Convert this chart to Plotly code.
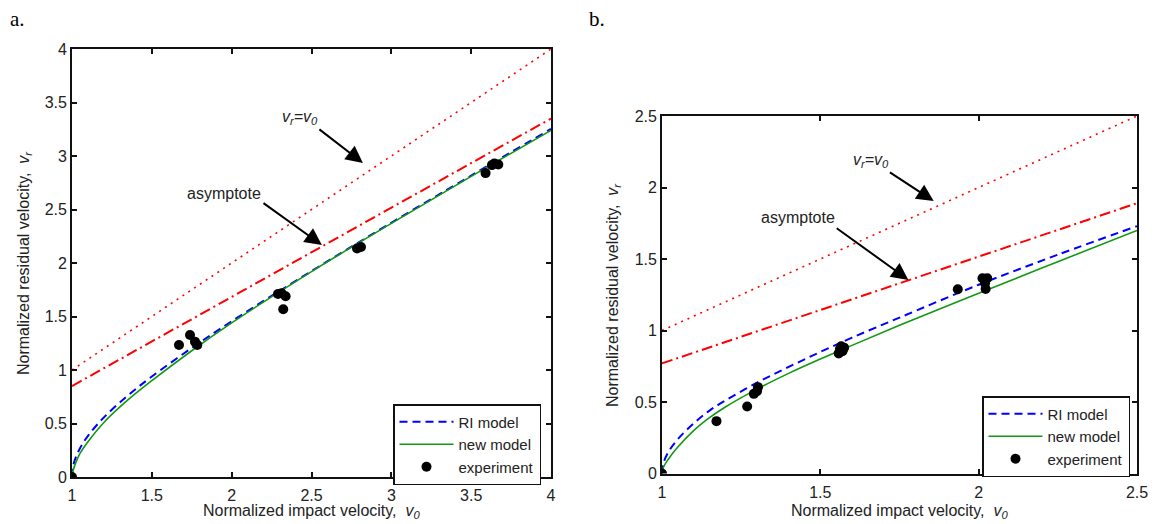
import plotly.graph_objects as go

W, H = 1155, 524

# ---------------- Panel a data ----------------
a_v0 = [1.0, 1.005, 1.02, 1.05, 1.1, 1.2, 1.35, 1.5, 1.75, 2.0, 2.5, 3.0, 3.5, 4.0]
a_ri = [0.0, 0.084, 0.169, 0.269, 0.385, 0.557, 0.762, 0.939, 1.206, 1.455, 1.924, 2.376, 2.817, 3.253]
a_new = [0.0, 0.05, 0.12, 0.22, 0.33, 0.51, 0.72, 0.90, 1.18, 1.44, 1.92, 2.37, 2.81, 3.24]
a_line_x = [1.0, 4.0]
a_equal_y = [1.0, 4.0]
a_asym_y = [0.85, 3.35]
a_exp_x = [1.0, 1.67, 1.739, 1.77, 1.785, 2.29, 2.313, 2.338, 2.323, 2.785, 2.81, 3.59, 3.63, 3.645, 3.67]
a_exp_y = [0.0, 1.234, 1.327, 1.265, 1.234, 1.71, 1.717, 1.69, 1.567, 2.135, 2.15, 2.84, 2.915, 2.93, 2.92]
a_xticks = [1, 1.5, 2, 2.5, 3, 3.5, 4]
a_yticks = [0, 0.5, 1, 1.5, 2, 2.5, 3, 3.5, 4]

# ---------------- Panel b data ----------------
b_v0 = [1.0, 1.005, 1.02, 1.05, 1.1, 1.15, 1.2, 1.3, 1.4, 1.5, 1.6, 1.75, 2.0, 2.25, 2.5]
b_ri = [0.0, 0.075, 0.15, 0.24, 0.35, 0.44, 0.51, 0.635, 0.745, 0.85, 0.95, 1.09, 1.32, 1.53, 1.73]
b_new = [0.0, 0.045, 0.10, 0.185, 0.30, 0.39, 0.465, 0.59, 0.70, 0.80, 0.896, 1.036, 1.261, 1.481, 1.70]
b_line_x = [1.0, 2.5]
b_equal_y = [1.0, 2.5]
b_asym_y = [0.77, 1.89]
b_exp_x = [1.0, 1.172, 1.269, 1.29, 1.30, 1.303, 1.558, 1.562, 1.566, 1.575, 1.57, 1.934, 2.012, 2.027, 2.02, 2.022]
b_exp_y = [0.0, 0.366, 0.469, 0.557, 0.575, 0.604, 0.84, 0.87, 0.89, 0.88, 0.855, 1.289, 1.365, 1.365, 1.33, 1.29]
b_xticks = [1, 1.5, 2, 2.5]
b_yticks = [0, 0.5, 1, 1.5, 2, 2.5]

FONT = "Liberation Sans, Arial, Helvetica, sans-serif"
TXT = "#222222"
RED = "#ff0000"
BLUE = "#0000ff"
GREEN = "#119911"

fig = go.Figure()


def add_panel(xa, ya, lg, v0, ri, new, lx, eq, asym, ex, ey):
    fig.add_trace(go.Scatter(x=lx, y=eq, mode="lines", xaxis=xa, yaxis=ya, showlegend=False,
                             line=dict(color=RED, width=1.6, dash="2px,5px"), hoverinfo="skip"))
    fig.add_trace(go.Scatter(x=lx, y=asym, mode="lines", xaxis=xa, yaxis=ya, showlegend=False,
                             line=dict(color=RED, width=2, dash="11px,4px,2px,4px"), hoverinfo="skip"))
    fig.add_trace(go.Scatter(x=v0, y=ri, mode="lines", name="RI model", xaxis=xa, yaxis=ya, legend=lg,
                             line=dict(color=BLUE, width=2, dash="8px,5px", shape="spline")))
    fig.add_trace(go.Scatter(x=v0, y=new, mode="lines", name="new model", xaxis=xa, yaxis=ya, legend=lg,
                             line=dict(color=GREEN, width=1.6, shape="spline")))
    fig.add_trace(go.Scatter(x=ex, y=ey, mode="markers", name="experiment", xaxis=xa, yaxis=ya, legend=lg,
                             marker=dict(color="black", size=10)))


add_panel("x", "y", "legend", a_v0, a_ri, a_new, a_line_x, a_equal_y, a_asym_y, a_exp_x, a_exp_y)
add_panel("x2", "y2", "legend2", b_v0, b_ri, b_new, b_line_x, b_equal_y, b_asym_y, b_exp_x, b_exp_y)

axis_common = dict(showline=True, linecolor="#111111", linewidth=1.8, mirror="ticks",
                   ticks="inside", ticklen=5, tickwidth=1.5, tickcolor="#111111",
                   showgrid=False, zeroline=False, automargin=False,
                   tickfont=dict(family=FONT, size=16, color=TXT))

legend_common = dict(xanchor="left", yanchor="top", bordercolor="#111111", borderwidth=1.5,
                     bgcolor="white", font=dict(family=FONT, size=15, color=TXT),
                     tracegroupgap=0, itemwidth=54)

fig.update_layout(
    template="none",
    width=W, height=H,
    margin=dict(l=0, r=0, t=0, b=0, pad=0),
    paper_bgcolor="white", plot_bgcolor="white",
    font=dict(family=FONT, size=16, color=TXT),
    xaxis=dict(domain=[72 / W, 551 / W], range=[1, 4], tickvals=a_xticks, ticklabelstandoff=3,
               ticktext=[f"{t:g}" for t in a_xticks], anchor="y", **axis_common),
    yaxis=dict(domain=[1 - 477 / H, 1 - 49 / H], range=[0, 4], tickvals=a_yticks,
               ticktext=[f"{t:g}" for t in a_yticks], anchor="x", **axis_common),
    xaxis2=dict(domain=[662 / W, 1137 / W], range=[1, 2.5], tickvals=b_xticks, ticklabelstandoff=3,
                ticktext=[f"{t:g}" for t in b_xticks], anchor="y2", **axis_common),
    yaxis2=dict(domain=[1 - 473.5 / H, 1 - 116 / H], range=[0, 2.5], tickvals=b_yticks,
                ticktext=[f"{t:g}" for t in b_yticks], anchor="x2", **axis_common),
    legend=dict(x=393 / W, y=1 - 404 / H, **legend_common),
    legend2=dict(x=982 / W, y=1 - 396 / H, **legend_common),
    hovermode="closest",
)

ann = []
# panel labels
ann.append(dict(text="a.", x=8 / W, y=1 - 19 / H, xref="paper", yref="paper", xanchor="left", yanchor="middle",
                showarrow=False, font=dict(family="Liberation Serif, Times New Roman, serif", size=21, color="black")))
ann.append(dict(text="b.", x=587 / W, y=1 - 19 / H, xref="paper", yref="paper", xanchor="left", yanchor="middle",
                showarrow=False, font=dict(family="Liberation Serif, Times New Roman, serif", size=21, color="black")))
# axis titles
xt = "Normalized impact velocity,  <i>v<sub>0</sub></i>"
yt = "Normalized residual velocity,  <i>v<sub>r</sub></i>"
ann.append(dict(text=xt, x=311 / W, y=1 - 511 / H, xref="paper", yref="paper", xanchor="center", yanchor="middle",
                showarrow=False))
ann.append(dict(text=xt, x=899 / W, y=1 - 511 / H, xref="paper", yref="paper", xanchor="center", yanchor="middle",
                showarrow=False))
ann.append(dict(text=yt, x=24 / W, y=1 - 263 / H, xref="paper", yref="paper", xanchor="center", yanchor="middle",
                showarrow=False, textangle=-90))
ann.append(dict(text=yt, x=613 / W, y=1 - 295 / H, xref="paper", yref="paper", xanchor="center", yanchor="middle",
                showarrow=False, textangle=-90))

# in-plot labels and arrows
lab = "<i>v<sub>r</sub>=v<sub>0</sub></i>"
arrow = dict(showarrow=True, arrowhead=2, arrowsize=1.7, arrowwidth=2, arrowcolor="black", text="",
             standoff=0, startstandoff=0)
# panel a
ann.append(dict(text=lab, x=2.428, y=3.36, xref="x", yref="y", showarrow=False))
ann.append(dict(x=2.822, y=2.935, ax=2.54, ay=3.26, xref="x", yref="y", axref="x", ayref="y", **arrow))
ann.append(dict(text="asymptote", x=1.952, y=2.645, xref="x", yref="y", showarrow=False))
ann.append(dict(x=2.565, y=2.168, ax=2.19, ay=2.57, xref="x", yref="y", axref="x", ayref="y", **arrow))
# panel b
ann.append(dict(text=lab, x=1.661, y=2.19, xref="x2", yref="y2", showarrow=False))
ann.append(dict(x=1.858, y=1.905, ax=1.715, ay=2.113, xref="x2", yref="y2", axref="x2", ayref="y2", **arrow))
ann.append(dict(text="asymptote", x=1.43, y=1.79, xref="x2", yref="y2", showarrow=False))
ann.append(dict(x=1.778, y=1.354, ax=1.547, ay=1.723, xref="x2", yref="y2", axref="x2", ayref="y2", **arrow))

fig.update_layout(annotations=ann)

fig.write_html("out.html", config={"displayModeBar": False},
               post_script="document.body.style.margin='0px';")
